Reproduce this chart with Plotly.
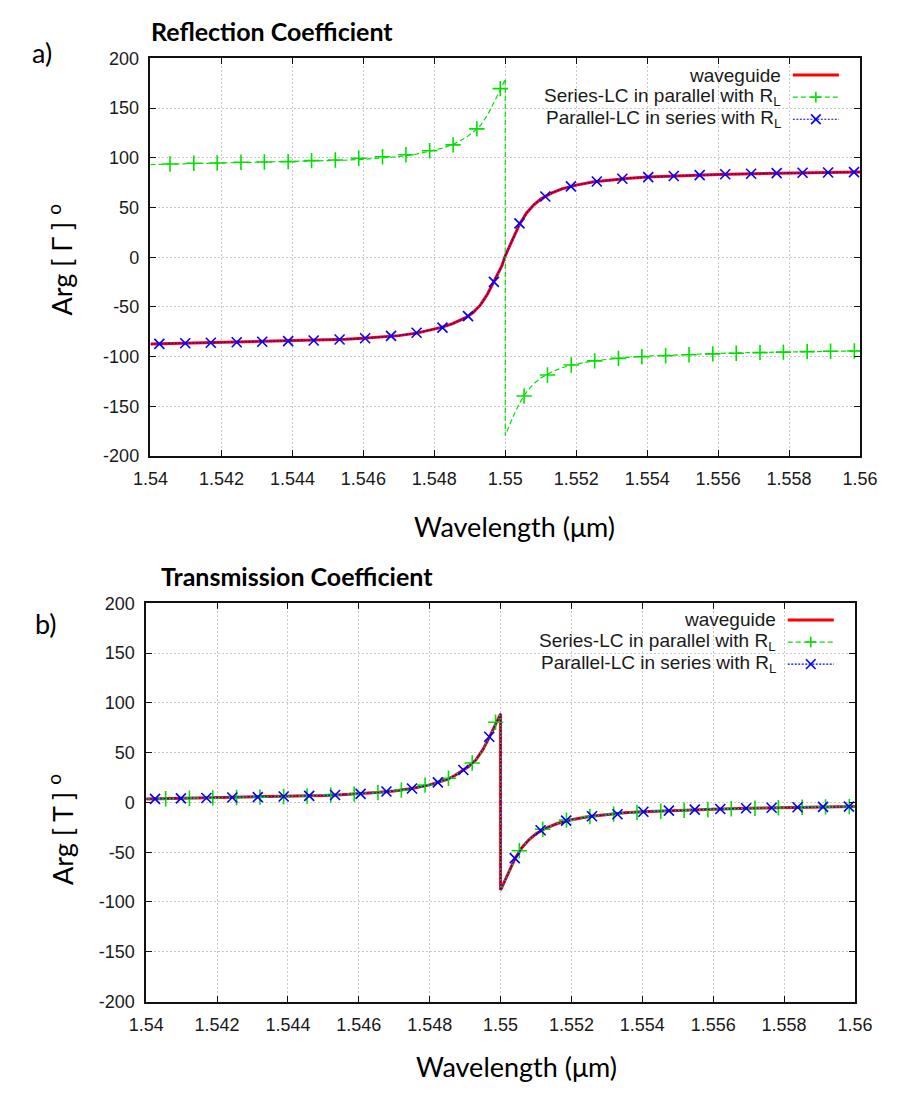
import plotly.graph_objects as go

W, H = 903, 1095

# ---------------- tick labels ----------------
x_tick_vals = [1.540, 1.542, 1.544, 1.546, 1.548, 1.550, 1.552, 1.554, 1.556, 1.558, 1.560]
x_tick_text = ["1.54", "1.542", "1.544", "1.546", "1.548", "1.55", "1.552", "1.554", "1.556", "1.558", "1.56"]
y_tick_vals = [-200, -150, -100, -50, 0, 50, 100, 150, 200]
y_tick_text = ["-200", "-150", "-100", "-50", "0", "50", "100", "150", "200"]

series_names = ["waveguide", "Series-LC in parallel with R<sub>L</sub>", "Parallel-LC in series with R<sub>L</sub>"]

# ---------------- a) Reflection coefficient ----------------
refl_wg_x = [1.5400, 1.5410, 1.5420, 1.5430, 1.5440, 1.5450, 1.5455, 1.5460, 1.5465, 1.5470,
             1.5475, 1.5480, 1.5482, 1.5485, 1.5487, 1.5489, 1.5491, 1.5493, 1.5495, 1.5497,
             1.5499, 1.5500, 1.5502, 1.5504, 1.5506, 1.5508, 1.5510, 1.5513, 1.5516, 1.5520,
             1.5525, 1.5530, 1.5535, 1.5540, 1.5550, 1.5560, 1.5570, 1.5580, 1.5590, 1.5600]
refl_wg_y = [-87.4, -86.6, -85.9, -85.2, -84.4, -83.3, -82.6, -81.6, -80.4, -78.9,
             -76.4, -72.6, -70.6, -67.0, -63.5, -60.5, -55.5, -48.0, -37.0, -23.5,
             -9.0, 1.5, 18.0, 33.0, 44.5, 52.5, 58.5, 64.5, 68.8, 72.5,
             75.8, 78.0, 79.5, 80.6, 82.1, 83.2, 84.0, 84.7, 85.2, 85.6]

refl_slc_x = [1.5400, 1.5410, 1.5420, 1.5430, 1.5440, 1.5450, 1.5455, 1.5460, 1.5465, 1.5470,
              1.5475, 1.5480, 1.5482, 1.5485, 1.5487, 1.5489, 1.5491, 1.5493, 1.5495, 1.5497,
              1.5499, 1.5500, 1.5500, 1.5502, 1.5504, 1.5506, 1.5508, 1.5510, 1.5513, 1.5516,
              1.5520, 1.5525, 1.5530, 1.5535, 1.5540, 1.5550, 1.5560, 1.5570, 1.5580, 1.5590, 1.5600]
refl_slc_y = [93.2, 93.9, 94.6, 95.2, 95.9, 96.9, 97.6, 98.5, 99.7, 101.2,
              103.7, 107.5, 109.5, 113.0, 116.5, 120.5, 126.0, 132.5, 143.0, 156.5,
              171.0, 179.5, -179.5, -162.0, -147.0, -135.5, -127.5, -121.5, -115.5, -111.2,
              -107.5, -104.2, -102.0, -100.5, -99.4, -97.9, -96.8, -95.9, -95.2, -94.7, -94.3]

# marker positions (every n-th sample)
mark_x_plc = [1.54025, 1.54098, 1.54170, 1.54243, 1.54315, 1.54388, 1.54460, 1.54533, 1.54605, 1.54678,
              1.54750, 1.54823, 1.54895, 1.54968, 1.55040, 1.55113, 1.55185, 1.55258, 1.55330, 1.55403,
              1.55475, 1.55548, 1.55620, 1.55693, 1.55765, 1.55838, 1.55910, 1.55983]
mark_x_slc = [1.54055, 1.54122, 1.54188, 1.54255, 1.54321, 1.54388, 1.54454, 1.54521, 1.54587, 1.54654,
              1.54720, 1.54787, 1.54853, 1.54920, 1.54986, 1.55053, 1.55119, 1.55186, 1.55252, 1.55319,
              1.55385, 1.55452, 1.55518, 1.55585, 1.55651, 1.55718, 1.55784, 1.55851, 1.55917, 1.55984]

refl_plc_mark_y = [-87.2, -86.6, -86.1, -85.6, -85.1, -84.5, -83.8, -82.8, -81.5, -79.2,
                   -76.0, -70.9, -59.3, -24.8, 34.0, 61.1, 71.3, 76.2, 78.9, 80.6,
                   81.7, 82.6, 83.4, 84.0, 84.6, 85.0, 85.2, 85.6]
refl_slc_mark_y = [93.8, 94.5, 94.8, 95.5, 95.8, 96.2, 97.2, 97.8, 99.5, 101.1,
                   103.1, 107.1, 113.0, 129.1, 169.6, -139.6, -118.5, -108.5, -104.3, -101.8,
                   -100.2, -99.1, -98.1, -97.3, -96.6, -96.0, -95.5, -95.0, -94.6, -94.3]

# ---------------- b) Transmission coefficient ----------------
trans_x = [1.5400, 1.5410, 1.5420, 1.5430, 1.5440, 1.5450, 1.5455, 1.5460, 1.5465, 1.5470,
           1.5475, 1.5480, 1.5482, 1.5485, 1.5487, 1.5489, 1.5491, 1.5493, 1.5495, 1.5497,
           1.5499, 1.5500, 1.5500, 1.5502, 1.5504, 1.5506, 1.5508, 1.5510, 1.5513, 1.5516,
           1.5520, 1.5525, 1.5530, 1.5535, 1.5540, 1.5550, 1.5560, 1.5570, 1.5580, 1.5590, 1.5600]
trans_y = [3.4, 4.0, 4.6, 5.2, 6.0, 7.0, 7.8, 8.7, 9.9, 11.4,
           14.0, 17.6, 19.6, 23.2, 26.8, 31.0, 36.0, 42.5, 53.0, 66.5,
           81.0, 89.0, -88.0, -72.0, -57.0, -45.5, -37.5, -31.5, -25.5, -21.2,
           -17.5, -14.2, -12.0, -10.5, -9.4, -7.9, -6.8, -5.9, -5.2, -4.6, -4.2]

trans_plc_mark_y = [3.5, 4.0, 4.4, 4.9, 5.3, 5.9, 6.6, 7.5, 8.6, 10.9,
                    14.0, 20.1, 32.5, 66.0, -56.0, -28.0, -18.3, -13.9, -11.9, -9.4,
                    -8.3, -7.2, -6.6, -5.9, -5.4, -4.9, -4.5, -4.2]
trans_slc_mark_y = [3.7, 4.1, 4.5, 4.9, 5.3, 5.9, 6.4, 7.3, 8.3, 9.9,
                    12.3, 17.4, 24.2, 39.6, 80.5, -48.5, -27.0, -17.8, -14.1, -11.8,
                    -10.0, -8.9, -7.9, -7.1, -6.4, -5.8, -5.3, -4.9, -4.5, -4.2]

# ---------------- styles ----------------
RED = "#ff0000"
GREEN = "#00e000"
BLUE = "#0000ff"
TXT_FONT = "Liberation Sans"
CAL_FONT = "Lato"

fig = go.Figure()


def add_panel(xa, ya, wg_x, wg_y, slc_x, slc_y, plc_x, plc_y, slc_my, plc_my):
    fig.add_trace(go.Scatter(x=wg_x, y=wg_y, mode="lines", xaxis=xa, yaxis=ya,
                             line=dict(color=RED, width=3), showlegend=False, hoverinfo="skip"))
    fig.add_trace(go.Scatter(x=slc_x, y=slc_y, mode="lines", xaxis=xa, yaxis=ya,
                             line=dict(color=GREEN, width=1.2, dash="5px,3px"), showlegend=False, hoverinfo="skip"))
    fig.add_trace(go.Scatter(x=mark_x_slc, y=slc_my, mode="markers", xaxis=xa, yaxis=ya,
                             marker=dict(symbol="cross-thin", size=11, line=dict(color=GREEN, width=1.6)),
                             showlegend=False, hoverinfo="skip"))
    fig.add_trace(go.Scatter(x=plc_x, y=plc_y, mode="lines", xaxis=xa, yaxis=ya,
                             line=dict(color=BLUE, width=1.2, dash="2px,1.5px"), showlegend=False, hoverinfo="skip"))
    fig.add_trace(go.Scatter(x=mark_x_plc, y=plc_my, mode="markers", xaxis=xa, yaxis=ya,
                             marker=dict(symbol="x-thin", size=10, line=dict(color=BLUE, width=1.6)),
                             showlegend=False, hoverinfo="skip"))


add_panel("x", "y", refl_wg_x, refl_wg_y, refl_slc_x, refl_slc_y, refl_wg_x, refl_wg_y,
          refl_slc_mark_y, refl_plc_mark_y)
add_panel("x2", "y2", trans_x, trans_y, trans_x, trans_y, trans_x, trans_y,
          trans_slc_mark_y, trans_plc_mark_y)


def px(x):
    return x / W


def py(y):
    return 1 - y / H


# plot boxes in pixels: (left, top, right, bottom)
boxes = [(138, 49.3, 877, 454.3), (133.5, 604.3, 871.7, 1010)]

axis_common = dict(showline=True, linecolor="#111111", linewidth=1.5, mirror="ticks",
                   ticks="inside", ticklen=6, tickwidth=1, tickcolor="#111111",
                   showgrid=True, gridcolor="#c8c8c8", gridwidth=1, griddash="2px,2px",
                   zeroline=False, tickfont=dict(family=TXT_FONT, size=18, color="#1a1a1a"))

layout_axes = {}
for i, (l, t, r, b) in enumerate(boxes):
    sfx = "" if i == 0 else "2"
    layout_axes["xaxis" + sfx] = dict(axis_common, domain=[px(l), px(r)], range=[1.54, 1.56],
                                      tickmode="array", tickvals=x_tick_vals, ticktext=x_tick_text,
                                      anchor="y" + sfx, ticklabelstandoff=6)
    layout_axes["yaxis" + sfx] = dict(axis_common, domain=[py(b), py(t)], range=[-200, 200],
                                      tickmode="array", tickvals=y_tick_vals, ticktext=y_tick_text,
                                      anchor="x" + sfx, ticklabelstandoff=6)

fig.update_layout(width=W, height=H, margin=dict(l=0, r=0, t=0, b=0),
                  paper_bgcolor="white", plot_bgcolor="white", showlegend=False, **layout_axes)

annotations = []
shapes = []

titles = ["Reflection Coefficient", "Transmission Coefficient"]
title_pos = [(136, 21), (147, 577)]
panel_labels = ["a)", "b)"]
panel_pos = [(25, 43), (29, 625)]
ylabels = ["Arg [ Γ ] <sup>o</sup>", "Arg [ T ] <sup>o</sup>"]
ylabel_pos = [(44, 255), (44, 835)]
xlabel_pos = [(517, 526), (519, 1076)]

for i in range(2):
    annotations.append(dict(text="<b>" + titles[i] + "</b>", x=px(title_pos[i][0]), y=py(title_pos[i][1]),
                            xref="paper", yref="paper", xanchor="left", yanchor="middle", showarrow=False,
                            font=dict(family=CAL_FONT, size=25, color="#000000")))
    annotations.append(dict(text=panel_labels[i], x=px(panel_pos[i][0]), y=py(panel_pos[i][1]),
                            xref="paper", yref="paper", xanchor="center", yanchor="middle", showarrow=False,
                            font=dict(family=CAL_FONT, size=27, color="#000000")))
    annotations.append(dict(text=ylabels[i], x=px(ylabel_pos[i][0]), y=py(ylabel_pos[i][1]),
                            xref="paper", yref="paper", xanchor="center", yanchor="middle", showarrow=False,
                            textangle=-90, font=dict(family=CAL_FONT, size=27, color="#000000")))
    annotations.append(dict(text="Wavelength (μm)", x=px(xlabel_pos[i][0]), y=py(xlabel_pos[i][1]),
                            xref="paper", yref="paper", xanchor="center", yanchor="middle", showarrow=False,
                            font=dict(family=CAL_FONT, size=27, color="#000000")))

    # manual legend (text left of sample, like the original)
    l, t, r, b = boxes[i]
    shapes.append(dict(type="rect", xref="paper", yref="paper", layer="between",
                       x0=px(r - 322), x1=px(r - 19), y0=py(t + 70), y1=py(t + 1.5),
                       fillcolor="white", line=dict(width=0)))
    rows = [t + 17, t + 39.5, t + 62]
    styles = [(RED, 3, "solid", None), (GREEN, 1.2, "5px,3px", "+"), (BLUE, 1.2, "2px,1.5px", "x")]
    for k in range(3):
        yy = rows[k]
        annotations.append(dict(text=series_names[k], x=px(r - 80), y=py(yy), xref="paper", yref="paper",
                                xanchor="right", yanchor="middle", showarrow=False,
                                font=dict(family=TXT_FONT, size=19, color="#1a1a1a")))
        col, wdt, dsh, mk = styles[k]
        shapes.append(dict(type="line", xref="paper", yref="paper", x0=px(r - 70), x1=px(r - 22),
                           y0=py(yy), y1=py(yy), line=dict(color=col, width=wdt, dash=dsh)))
        cx = r - 46
        if mk == "+":
            shapes.append(dict(type="line", xref="paper", yref="paper", x0=px(cx - 5.5), x1=px(cx + 5.5),
                               y0=py(yy), y1=py(yy), line=dict(color=col, width=1.6)))
            shapes.append(dict(type="line", xref="paper", yref="paper", x0=px(cx), x1=px(cx),
                               y0=py(yy - 5.5), y1=py(yy + 5.5), line=dict(color=col, width=1.6)))
        elif mk == "x":
            shapes.append(dict(type="line", xref="paper", yref="paper", x0=px(cx - 5), x1=px(cx + 5),
                               y0=py(yy - 5), y1=py(yy + 5), line=dict(color=col, width=1.6)))
            shapes.append(dict(type="line", xref="paper", yref="paper", x0=px(cx - 5), x1=px(cx + 5),
                               y0=py(yy + 5), y1=py(yy - 5), line=dict(color=col, width=1.6)))

fig.update_layout(annotations=annotations, shapes=shapes)
fig.write_html("out.html")
